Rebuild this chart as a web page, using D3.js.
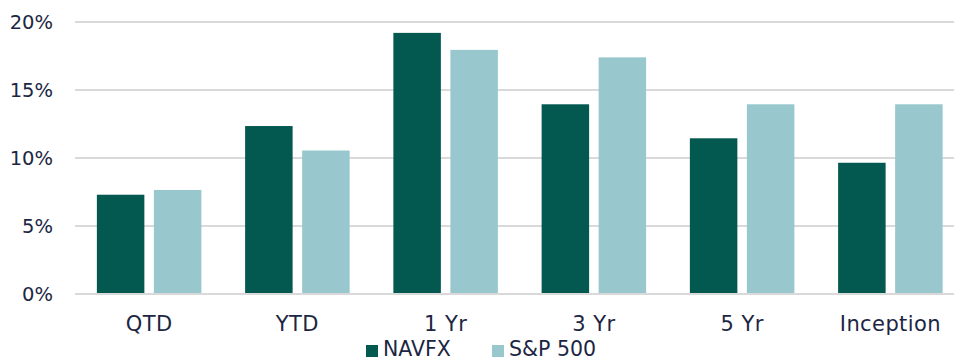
<!DOCTYPE html>
<html>
<head>
<meta charset="utf-8">
<script src="https://cdn.jsdelivr.net/npm/d3@7"></script>
<style>
	html, body { margin: 0; padding: 0; background: #fff; }
	svg { display: block; }
	text { font-family: "DejaVu Sans", sans-serif; fill: #1c2643; }
</style>
</head>
<body>
<div id="chart"></div>
<script>
// chart values
const categories = ['QTD', 'YTD', '1 Yr', '3 Yr', '5 Yr', 'Inception'];
const seriesNames = ['NAVFX', 'S&P 500'];
const navfx = [7.3, 12.35, 19.2, 13.95, 11.45, 9.65];
const sp500 = [7.65, 10.55, 17.95, 17.4, 13.95, 13.95];
const yTickValues = [0, 5, 10, 15, 20];

const colors = {'NAVFX': '#03594f', 'S&P 500': '#99c7ce'};

const width = 954,
	height = 362,
	margin = {top: 22, left: 75, bottom: 68},
	plotRight = 964.5; // the original is cropped on the right

const rows = categories.map((c, i) => ({cat: c, 'NAVFX': navfx[i], 'S&P 500': sp500[i]}));

const svg = d3.select('#chart').append('svg')
	.attr('width', width)
	.attr('height', height);

const x0 = d3.scaleBand()
	.domain(categories)
	.range([margin.left, plotRight])
	.paddingInner(0.295)
	.paddingOuter(0.1475);

const x1 = d3.scaleBand()
	.domain(seriesNames)
	.range([0, x0.bandwidth()])
	.paddingInner(0.167);

const y = d3.scaleLinear()
	.domain([0, 20])
	.range([height - margin.bottom, margin.top]);

// gridlines
svg.append('g')
	.selectAll('line')
	.data(yTickValues)
	.enter().append('line')
		.attr('x1', margin.left)
		.attr('x2', width)
		.attr('y1', d => y(d))
		.attr('y2', d => y(d))
		.style('stroke', '#d9d9d9')
		.style('stroke-width', 2);

// y labels
svg.append('g')
	.selectAll('text')
	.data(yTickValues)
	.enter().append('text')
		.attr('x', 53)
		.attr('y', d => y(d))
		.attr('dy', '0.36em')
		.attr('text-anchor', 'end')
		.style('font-size', '19.5px')
		.text(d => d + '%');

// bars
const groups = svg.append('g')
	.selectAll('g')
	.data(rows)
	.enter().append('g')
		.attr('transform', d => `translate(${x0(d.cat)},0)`);

groups.selectAll('rect')
	.data(d => seriesNames.map(k => ({key: k, value: d[k]})))
	.enter().append('rect')
		.attr('x', d => x1(d.key))
		.attr('width', x1.bandwidth())
		.attr('y', d => y(d.value))
		.attr('height', d => y(0) - y(d.value) - 1)
		.style('fill', d => colors[d.key]);

// category labels
svg.append('g')
	.selectAll('text')
	.data(categories)
	.enter().append('text')
		.attr('x', d => x0(d) + x0.bandwidth() / 2)
		.attr('y', 331)
		.attr('text-anchor', 'middle')
		.style('font-size', '21px')
		.style('letter-spacing', '0.4px')
		.text(d => d);

// legend
const legend = svg.append('g');
const legendItems = [{name: 'NAVFX', x: 366}, {name: 'S&P 500', x: 492}];

legend.selectAll('rect')
	.data(legendItems)
	.enter().append('rect')
		.attr('x', d => d.x)
		.attr('y', 345)
		.attr('width', 12)
		.attr('height', 12)
		.style('fill', d => colors[d.name]);

legend.selectAll('text')
	.data(legendItems)
	.enter().append('text')
		.attr('x', d => d.x + 17)
		.attr('y', 356)
		.style('font-size', '20.5px')
		.text(d => d.name);
</script>
</body>
</html>
